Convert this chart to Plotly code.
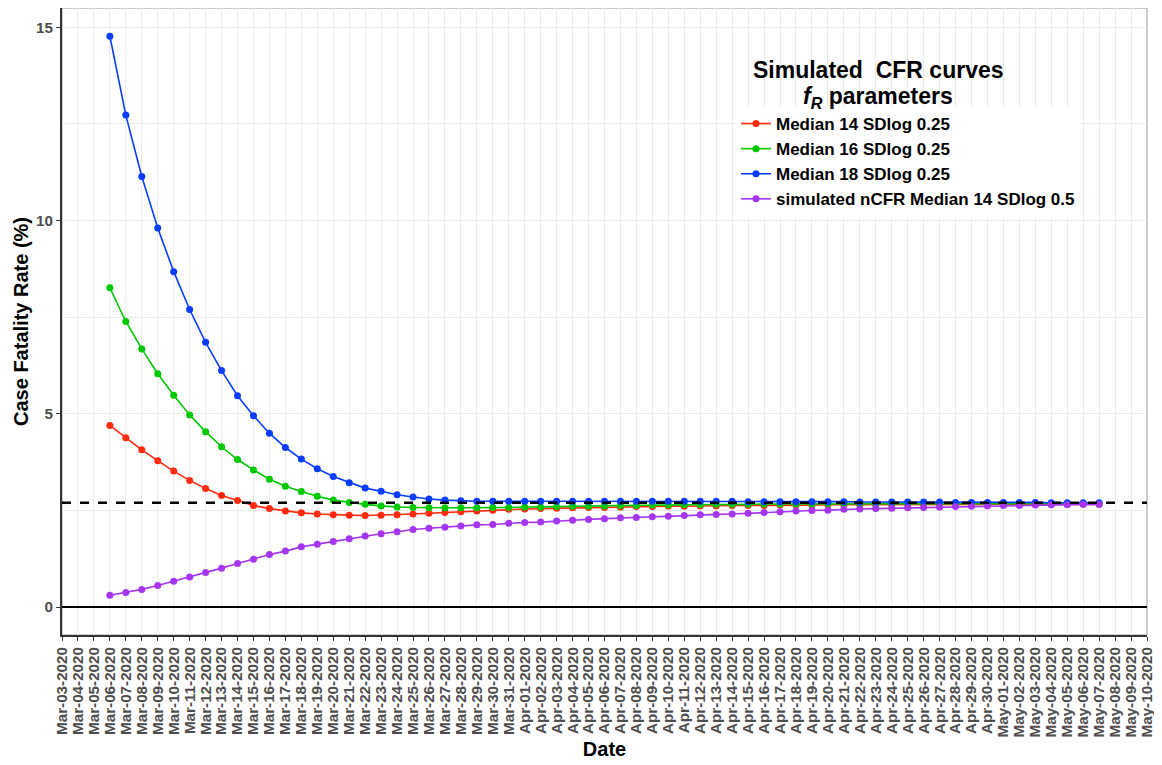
import pandas as pd
import plotly.graph_objects as go

# ---- data -------------------------------------------------------------
dates = pd.date_range("2020-03-06", "2020-05-07", freq="D")

median14 = [4.70, 4.38, 4.07, 3.79, 3.52, 3.28, 3.07, 2.89, 2.76, 2.63,
            2.55, 2.49, 2.44, 2.41, 2.39, 2.38, 2.37, 2.38, 2.39, 2.41,
            2.43, 2.45, 2.47, 2.49, 2.51, 2.53, 2.54, 2.55, 2.56, 2.57,
            2.58, 2.58, 2.59, 2.60, 2.60, 2.61, 2.61, 2.62, 2.62, 2.63,
            2.63, 2.63, 2.64, 2.64, 2.64, 2.65, 2.65, 2.65, 2.65, 2.65,
            2.66, 2.66, 2.66, 2.66, 2.66, 2.66, 2.66, 2.66, 2.66, 2.66,
            2.66, 2.66, 2.66]

median16 = [8.26, 7.39, 6.68, 6.04, 5.48, 4.97, 4.54, 4.15, 3.82, 3.55,
            3.31, 3.13, 2.99, 2.87, 2.77, 2.71, 2.66, 2.62, 2.59, 2.58,
            2.57, 2.57, 2.57, 2.57, 2.58, 2.58, 2.59, 2.59, 2.60, 2.61,
            2.61, 2.62, 2.63, 2.63, 2.64, 2.64, 2.65, 2.65, 2.66, 2.66,
            2.66, 2.67, 2.67, 2.67, 2.67, 2.68, 2.68, 2.68, 2.68, 2.68,
            2.68, 2.68, 2.68, 2.68, 2.68, 2.68, 2.68, 2.68, 2.68, 2.68,
            2.68, 2.68, 2.68]

median18 = [14.77, 12.73, 11.14, 9.81, 8.68, 7.70, 6.85, 6.12, 5.47, 4.95,
            4.50, 4.13, 3.83, 3.58, 3.38, 3.22, 3.08, 3.00, 2.91, 2.85,
            2.80, 2.77, 2.75, 2.74, 2.74, 2.74, 2.74, 2.74, 2.74, 2.74,
            2.74, 2.74, 2.74, 2.74, 2.74, 2.74, 2.74, 2.74, 2.74, 2.74,
            2.73, 2.73, 2.73, 2.73, 2.73, 2.73, 2.73, 2.72, 2.72, 2.72,
            2.72, 2.72, 2.72, 2.71, 2.71, 2.71, 2.71, 2.71, 2.71, 2.70,
            2.70, 2.70, 2.70]

ncfr14 = [0.31, 0.38, 0.46, 0.56, 0.67, 0.78, 0.90, 1.01, 1.13, 1.24,
          1.36, 1.45, 1.56, 1.63, 1.70, 1.77, 1.84, 1.90, 1.95, 2.01,
          2.04, 2.07, 2.10, 2.13, 2.14, 2.17, 2.19, 2.20, 2.23, 2.25,
          2.27, 2.29, 2.31, 2.32, 2.34, 2.35, 2.37, 2.39, 2.40, 2.41,
          2.43, 2.45, 2.47, 2.49, 2.50, 2.51, 2.53, 2.54, 2.55, 2.56,
          2.57, 2.58, 2.59, 2.60, 2.61, 2.62, 2.63, 2.63, 2.64, 2.65,
          2.65, 2.66, 2.66]

series_names = ["Median 14 SDlog 0.25", "Median 16 SDlog 0.25",
                "Median 18 SDlog 0.25", "simulated nCFR Median 14 SDlog 0.5"]
series_values = [median14, median16, median18, ncfr14]
series_colors = ["#FF2A10", "#00C800", "#0A3CFF", "#A635F0"]

TRUE_CFR = 2.7
x_range = ["2020-03-03", "2020-05-10"]
y_range = [-0.72, 15.5]

# ---- figure -----------------------------------------------------------
FONT = "Liberation Sans, Arial, sans-serif"
fig = go.Figure()
for name, vals, col in zip(series_names, series_values, series_colors):
    fig.add_trace(go.Scatter(
        x=dates, y=vals, name=name, mode="lines+markers",
        line=dict(color=col, width=1.6),
        marker=dict(color=col, size=7),
    ))

grid = "#EBEBEB"
tickfont = dict(family=FONT, size=15.2, color="#4D4D4D", weight="bold")

# the page body has an 8px margin, so the figure is drawn 8px smaller and
# everything is expressed in figure pixels (= page pixels - 8)
OFF = 8
W, H = 1162 - OFF, 765 - OFF
PL, PR, PT, PB = 62 - OFF, 1147 - OFF, 0, 635 - OFF   # plot-area box
PW, PH = PR - PL, PB - PT

fig.update_layout(
    width=W, height=H,
    margin=dict(l=PL, r=W - PR, t=PT, b=H - PB),
    paper_bgcolor="white", plot_bgcolor="white",
    font=dict(family=FONT, color="black"),
    showlegend=True,
    legend=dict(
        x=(736 - OFF - PL) / PW, y=(PB - (106 - OFF)) / PH, xanchor="left", yanchor="top",
        bgcolor="white", borderwidth=0,
        font=dict(size=17, color="black", family=FONT, weight="bold"),
        tracegroupgap=0, itemwidth=30,
    ),
    xaxis=dict(
        type="date", range=x_range, automargin=False,
        tick0="2020-03-03", dtick=86400000, tickformat="%b-%d-%Y",
        tickangle=-90, tickfont=tickfont,
        ticks="outside", ticklen=4, tickwidth=1.2, tickcolor="#333333",
        showgrid=True, gridcolor=grid, gridwidth=1,
        showline=True, linecolor="#333333", linewidth=2,
        zeroline=False,
        title=dict(text="<b>Date</b>", font=dict(size=20, color="black"), standoff=6),
    ),
    yaxis=dict(
        range=y_range, tick0=0, dtick=5, automargin=False,
        tickfont=tickfont,
        ticks="outside", ticklen=4, tickwidth=1.2, tickcolor="#333333",
        showgrid=True, gridcolor=grid, gridwidth=1,
        minor=dict(dtick=2.5, showgrid=True, gridcolor=grid, gridwidth=1),
        showline=True, linecolor="#333333", linewidth=2,
        zeroline=True, zerolinecolor="black", zerolinewidth=1.5,
        title=dict(text="<b>Case Fatality Rate (%)</b>", font=dict(size=20, color="black"), standoff=2),
    ),
    shapes=[
        dict(type="line", xref="paper", yref="y", x0=0, x1=1, y0=TRUE_CFR, y1=TRUE_CFR,
             line=dict(color="black", width=2.5, dash="dash"), layer="above"),
        dict(type="rect", xref="paper", yref="paper", x0=0, x1=1, y0=0, y1=1,
             line=dict(color="#999999", width=1), layer="below"),
    ],
    annotations=[
        dict(xref="paper", yref="paper", x=(878 - OFF - PL) / PW, y=(PB - (70 - OFF)) / PH,
             xanchor="center", yanchor="middle", showarrow=False,
             text="<b>Simulated  CFR curves</b>",
             font=dict(size=23, color="black")),
        dict(xref="paper", yref="paper", x=(878 - OFF - PL) / PW, y=(PB - (97 - OFF)) / PH,
             xanchor="center", yanchor="middle", showarrow=False,
             text="<b><i>f</i><sub><i>R</i></sub> parameters</b>",
             font=dict(size=23, color="black")),
    ],
)

fig.write_html("out.html")
